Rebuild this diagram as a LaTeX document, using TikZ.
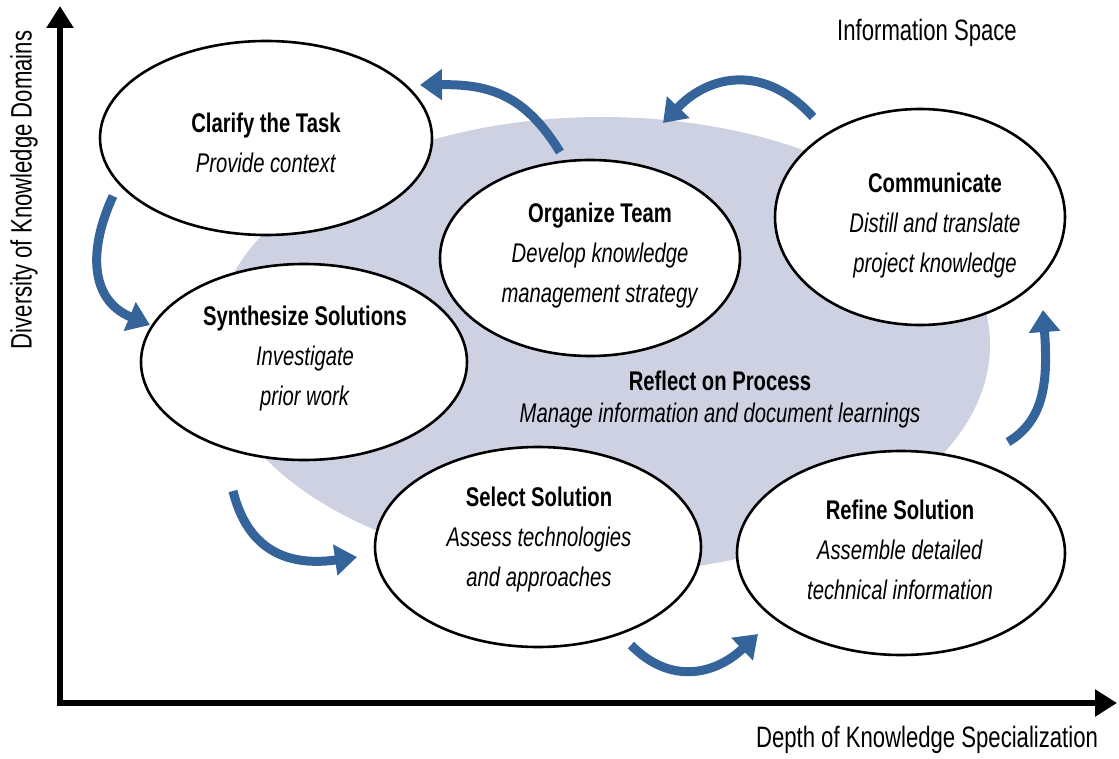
\documentclass[tikz,border=0pt]{standalone}
\usepackage{fontspec}
\setmainfont{Liberation Sans}[FakeStretch=0.75]
\usetikzlibrary{shapes.geometric,arrows.meta}
\definecolor{flowblue}{HTML}{34649A}
\definecolor{spacegray}{HTML}{CDD1E2}
\tikzset{
  stage/.style={ellipse, draw=black, line width=2.6pt, fill=white, inner sep=0pt},
  stagetext/.style={align=center, inner sep=0pt, font=\fontsize{27}{40}\selectfont},
  flow/.style={draw=flowblue, line width=9pt, -{Triangle[length=22pt,width=30pt]}},
  axis/.style={draw=black, line width=6pt, -{Triangle[length=22pt,width=26pt]}},
  lbl/.style={font=\fontsize{29.5}{32}\selectfont, inner sep=0pt}
}
\begin{document}
\begin{tikzpicture}[x=1pt,y=-1pt]
\useasboundingbox (0,0) rectangle (1119,759);
% information space
\fill[spacegray] (602,345) ellipse [x radius=388, y radius=228];
% axes
\coordinate (ytip) at (60,6);
\coordinate (xtip) at (1117,703);
\draw[axis] (60,706) -- (ytip);
\draw[axis] (57,703) -- (xtip);
\node[lbl, rotate=90] (ylab) at (24,190) {Diversity of Knowledge Domains};
\node[lbl] (xlab) at (927,740) {Depth of Knowledge Specialization};
\node[lbl] (space) at (927,33) {Information Space};
% stages
\node[stage, minimum width=332pt, minimum height=194pt] (clarify) at (266,138) {};
\node[stagetext] (clarifyt) at (266,143) {\textbf{Clarify the Task}\\\textit{Provide context}};
\node[stage, minimum width=300pt, minimum height=196pt] (organize) at (590,258) {};
\node[stagetext] (organizet) at (600,256) {\textbf{Organize Team}\\\textit{Develop knowledge}\\\textit{management strategy}};
\node[stage, minimum width=290pt, minimum height=216pt] (communicate) at (920,217) {};
\node[stagetext] (communicatet) at (935,226) {\textbf{Communicate}\\\textit{Distill and translate}\\\textit{project knowledge}};
\node[stage, minimum width=326pt, minimum height=196pt] (synth) at (304,362) {};
\node[stagetext] (syntht) at (305,359) {\textbf{Synthesize Solutions}\\\textit{Investigate}\\\textit{prior work}};
\node[stage, minimum width=326pt, minimum height=200pt] (select) at (538,547) {};
\node[stagetext] (selectt) at (539,540) {\textbf{Select Solution}\\\textit{Assess technologies}\\\textit{and approaches}};
\node[stage, minimum width=328pt, minimum height=204pt] (refine) at (901,553) {};
\node[stagetext] (refinet) at (900,550) {\textbf{Refine Solution}\\\textit{Assemble detailed}\\\textit{technical information}};
\node[align=center, inner sep=0pt, font=\fontsize{27}{32}\selectfont] (reflect) at (720,400)
  {\textbf{Reflect on Process}\\\textit{Manage information and document learnings}};
% flow arrows
\coordinate (a1s) at (560,152); \coordinate (a1e) at (420,85);
\draw[flow] (a1s) .. controls (525,95) and (490,84) .. (a1e);
\coordinate (a2s) at (813,117); \coordinate (a2e) at (663,123);
\draw[flow] (a2s) .. controls (765,64) and (710,74) .. (a2e);
\coordinate (a3s) at (113,196); \coordinate (a3e) at (150,325);
\draw[flow] (a3s) .. controls (88,250) and (90,300) .. (a3e);
\coordinate (a4s) at (233,491); \coordinate (a4e) at (357,557);
\draw[flow] (a4s) .. controls (250,560) and (300,565) .. (a4e);
\coordinate (a5s) at (631,645); \coordinate (a5e) at (758,634);
\draw[flow] (a5s) .. controls (670,685) and (715,675) .. (a5e);
\coordinate (a6s) at (1008,442); \coordinate (a6e) at (1043,310);
\draw[flow] (a6s) .. controls (1045,420) and (1048,380) .. (a6e);
\end{tikzpicture}
\end{document}
